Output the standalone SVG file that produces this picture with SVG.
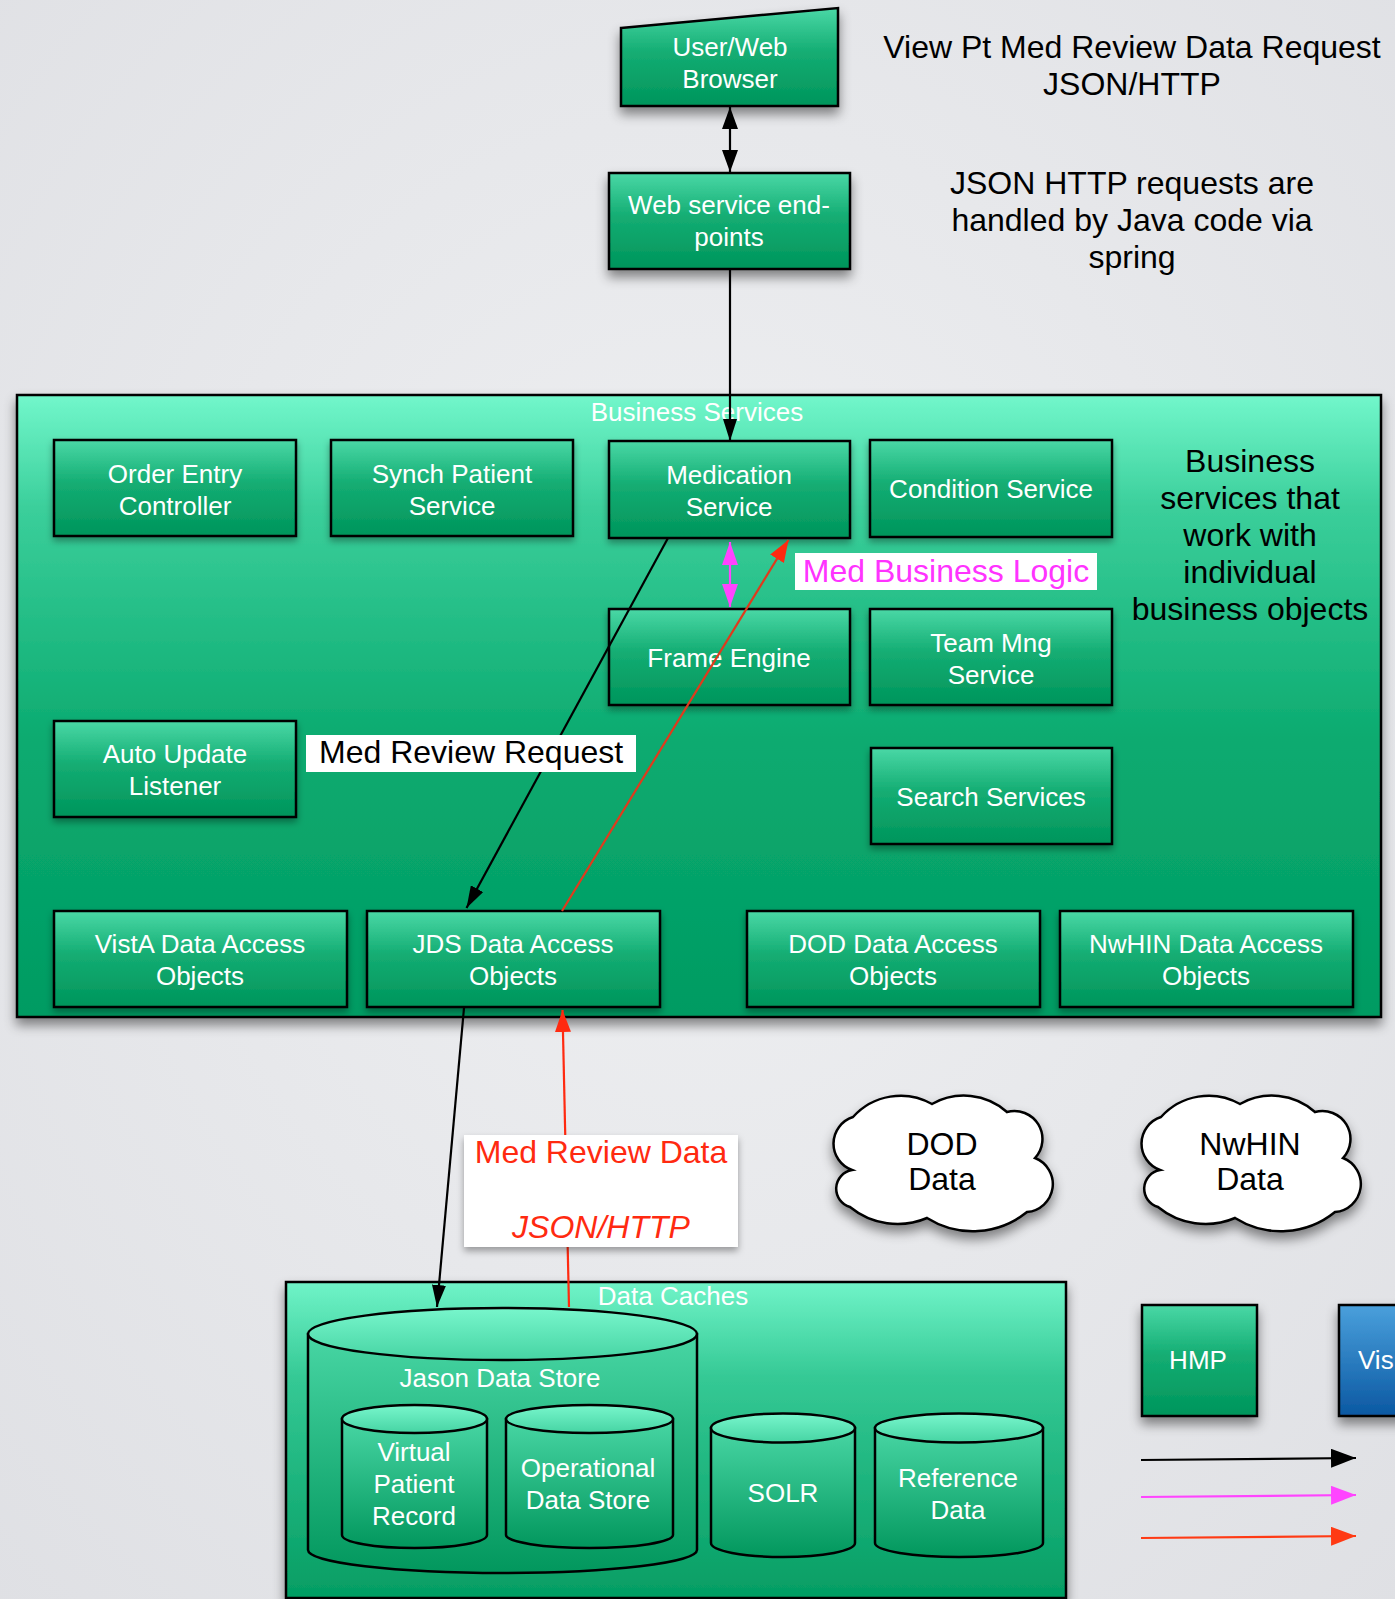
<svg xmlns="http://www.w3.org/2000/svg" width="1395" height="1599" viewBox="0 0 1395 1599">
<defs>
<radialGradient id="bg" cx="0.5" cy="0.45" r="0.75">
<stop offset="0" stop-color="#eff0f2"/><stop offset="1" stop-color="#dfe0e4"/>
</radialGradient>
<linearGradient id="gBox" x1="0" y1="0" x2="0" y2="1">
<stop offset="0" stop-color="#4ad8a6"/><stop offset="0.45" stop-color="#14ad73"/><stop offset="1" stop-color="#00955b"/>
</linearGradient>
<linearGradient id="gCont" x1="0" y1="0" x2="0" y2="1">
<stop offset="0" stop-color="#72f7cb"/><stop offset="0.18" stop-color="#3bcf9b"/><stop offset="0.55" stop-color="#0cab70"/><stop offset="1" stop-color="#009b62"/>
</linearGradient>
<linearGradient id="gCache" x1="0" y1="0" x2="0" y2="1">
<stop offset="0" stop-color="#70f4c8"/><stop offset="0.3" stop-color="#35c995"/><stop offset="1" stop-color="#049d63"/>
</linearGradient>
<linearGradient id="gCyl" x1="0" y1="0" x2="0" y2="1">
<stop offset="0" stop-color="#48d6a4"/><stop offset="1" stop-color="#02975d"/>
</linearGradient>
<linearGradient id="gTop" x1="0" y1="0" x2="0" y2="1">
<stop offset="0" stop-color="#78f6cc"/><stop offset="1" stop-color="#46d4a3"/>
</linearGradient>
<linearGradient id="gBlue" x1="0" y1="0" x2="0" y2="1">
<stop offset="0" stop-color="#4aa0dc"/><stop offset="1" stop-color="#0b58a2"/>
</linearGradient>
<filter id="sh" x="-20%" y="-20%" width="140%" height="150%">
<feDropShadow dx="0" dy="7" stdDeviation="6" flood-color="#000" flood-opacity="0.45"/>
</filter>
<filter id="shs" x="-20%" y="-20%" width="140%" height="150%">
<feDropShadow dx="0" dy="4" stdDeviation="3.5" flood-color="#000" flood-opacity="0.35"/>
</filter>
<marker id="aBlk" viewBox="0 0 22 16" refX="22" refY="8" markerWidth="22" markerHeight="16" markerUnits="userSpaceOnUse" orient="auto-start-reverse">
<path d="M0,0 L22,8 L0,16 z" fill="#000"/>
</marker>
<marker id="aBlkS" viewBox="0 0 22 14" refX="22" refY="7" markerWidth="22" markerHeight="14" markerUnits="userSpaceOnUse" orient="auto-start-reverse">
<path d="M0,0 L22,7 L0,14 z" fill="#000"/>
</marker>
<marker id="aBlkB" viewBox="0 0 25 19" refX="25" refY="9.5" markerWidth="25" markerHeight="19" markerUnits="userSpaceOnUse" orient="auto-start-reverse">
<path d="M0,0 L25,9.5 L0,19 z" fill="#000"/>
</marker>
<marker id="aPink" viewBox="0 0 23 16" refX="23" refY="8" markerWidth="23" markerHeight="16" markerUnits="userSpaceOnUse" orient="auto-start-reverse">
<path d="M0,0 L23,8 L0,16 z" fill="#ff44ff"/>
</marker>
<marker id="aPinkB" viewBox="0 0 25 19" refX="25" refY="9.5" markerWidth="25" markerHeight="19" markerUnits="userSpaceOnUse" orient="auto">
<path d="M0,0 L25,9.5 L0,19 z" fill="#ff44ff"/>
</marker>
<marker id="aRed" viewBox="0 0 22 16" refX="22" refY="8" markerWidth="22" markerHeight="16" markerUnits="userSpaceOnUse" orient="auto">
<path d="M0,0 L22,8 L0,16 z" fill="#ff2a10"/>
</marker>
<marker id="aRedB" viewBox="0 0 25 19" refX="25" refY="9.5" markerWidth="25" markerHeight="19" markerUnits="userSpaceOnUse" orient="auto">
<path d="M0,0 L25,9.5 L0,19 z" fill="#ff3a14"/>
</marker>
<path id="cloud" d="M20,70 A28,28 0 0 1 21,17 A64,64 0 0 1 100,4 A65,65 0 0 1 175,12 A28,28 0 0 1 203,58 A28,28 0 0 1 195,112 A86,86 0 0 1 95,118 A75,75 0 0 1 18,107 A19,19 0 0 1 20,70 Z"/>
</defs>
<style>
.box{fill:url(#gBox);stroke:#000;stroke-width:2.5}
.cont{stroke:#000;stroke-width:2.5}
.cyl{fill:url(#gCyl);stroke:#000;stroke-width:2.5}
.ctop{fill:url(#gTop);stroke:#000;stroke-width:2.5}
.wt{font-family:"Liberation Sans",Arial,Helvetica,sans-serif;font-size:26px;fill:#fff;text-anchor:middle}
.bt{font-family:"Liberation Sans",Arial,Helvetica,sans-serif;font-size:32px;fill:#000;text-anchor:middle}
.lbl{fill:#fff}
.ln{fill:none;stroke-width:2.2}
.cl{fill:#fff;stroke:#000;stroke-width:2.5}
</style>
<rect x="0" y="0" width="1395" height="1599" fill="url(#bg)"/>

<g id="note-top">
<text class="bt" x="1132" y="58">View Pt Med Review Data Request</text>
<text class="bt" x="1132" y="95">JSON/HTTP</text>
</g>
<g id="note-json">
<text class="bt" x="1132" y="194">JSON HTTP requests are</text>
<text class="bt" x="1132" y="231">handled by Java code via</text>
<text class="bt" x="1132" y="268">spring</text>
</g>

<g id="browser">
<path d="M621,28 L838,8 L838,106 L621,106 Z" class="box" filter="url(#sh)"/>
<text class="wt" x="730" y="56">User/Web</text>
<text class="wt" x="730" y="88">Browser</text>
</g>
<g id="webservice">
<rect x="609" y="173" width="241" height="96" class="box" filter="url(#sh)"/>
<text class="wt" x="729" y="214">Web service end-</text>
<text class="wt" x="729" y="246">points</text>
</g>

<g id="business-services">
<rect x="17" y="395" width="1364" height="622" class="cont" fill="url(#gCont)" filter="url(#sh)"/>
<text class="wt" x="697" y="421">Business Services</text>
</g>
<g id="order-entry">
<rect x="54" y="440" width="242" height="96" class="box" filter="url(#shs)"/>
<text class="wt" x="175" y="483">Order Entry</text>
<text class="wt" x="175" y="515">Controller</text>
</g>
<g id="synch-patient">
<rect x="331" y="440" width="242" height="96" class="box" filter="url(#shs)"/>
<text class="wt" x="452" y="483">Synch Patient</text>
<text class="wt" x="452" y="515">Service</text>
</g>
<g id="medication">
<rect x="609" y="441" width="241" height="97" class="box" filter="url(#shs)"/>
<text class="wt" x="729" y="484">Medication</text>
<text class="wt" x="729" y="516">Service</text>
</g>
<g id="condition">
<rect x="870" y="440" width="242" height="97" class="box" filter="url(#shs)"/>
<text class="wt" x="991" y="498">Condition Service</text>
</g>
<g id="frame-engine">
<rect x="609" y="609" width="241" height="96" class="box" filter="url(#shs)"/>
<text class="wt" x="729" y="667">Frame Engine</text>
</g>
<g id="team-mng">
<rect x="870" y="609" width="242" height="96" class="box" filter="url(#shs)"/>
<text class="wt" x="991" y="652">Team Mng</text>
<text class="wt" x="991" y="684">Service</text>
</g>
<g id="auto-update">
<rect x="54" y="721" width="242" height="96" class="box" filter="url(#shs)"/>
<text class="wt" x="175" y="763">Auto Update</text>
<text class="wt" x="175" y="795">Listener</text>
</g>
<g id="search">
<rect x="871" y="748" width="241" height="96" class="box" filter="url(#shs)"/>
<text class="wt" x="991" y="806">Search Services</text>
</g>
<g id="vista-dao">
<rect x="54" y="911" width="293" height="96" class="box" filter="url(#shs)"/>
<text class="wt" x="200" y="953">VistA Data Access</text>
<text class="wt" x="200" y="985">Objects</text>
</g>
<g id="jds-dao">
<rect x="367" y="911" width="293" height="96" class="box" filter="url(#shs)"/>
<text class="wt" x="513" y="953">JDS Data Access</text>
<text class="wt" x="513" y="985">Objects</text>
</g>
<g id="dod-dao">
<rect x="747" y="911" width="293" height="96" class="box" filter="url(#shs)"/>
<text class="wt" x="893" y="953">DOD Data Access</text>
<text class="wt" x="893" y="985">Objects</text>
</g>
<g id="nwhin-dao">
<rect x="1060" y="911" width="293" height="96" class="box" filter="url(#shs)"/>
<text class="wt" x="1206" y="953">NwHIN Data Access</text>
<text class="wt" x="1206" y="985">Objects</text>
</g>
<g id="note-business">
<text class="bt" x="1250" y="472">Business</text>
<text class="bt" x="1250" y="509">services that</text>
<text class="bt" x="1250" y="546">work with</text>
<text class="bt" x="1250" y="583">individual</text>
<text class="bt" x="1250" y="620">business objects</text>
</g>

<g id="data-caches">
<rect x="286" y="1282" width="780" height="316" class="cont" fill="url(#gCache)" filter="url(#sh)"/>
<text class="wt" x="673" y="1305">Data Caches</text>
</g>
<g id="jason-store">
<path d="M308,1334 V1550 A194,23 0 0 0 697,1550 V1334 Z" class="cyl"/>
<ellipse cx="502.5" cy="1334" rx="194.5" ry="26" class="ctop"/>
<text class="wt" x="500" y="1387">Jason Data Store</text>
</g>
<g id="vpr">
<path d="M342,1419 V1535 A72,13 0 0 0 487,1535 V1419 Z" class="cyl"/>
<ellipse cx="414.5" cy="1419" rx="72.5" ry="14" class="ctop"/>
<text class="wt" x="414" y="1461">Virtual</text>
<text class="wt" x="414" y="1493">Patient</text>
<text class="wt" x="414" y="1525">Record</text>
</g>
<g id="ods">
<path d="M506,1419 V1535 A83.5,13 0 0 0 673,1535 V1419 Z" class="cyl"/>
<ellipse cx="589.5" cy="1419" rx="83.5" ry="14" class="ctop"/>
<text class="wt" x="588" y="1477">Operational</text>
<text class="wt" x="588" y="1509">Data Store</text>
</g>
<g id="solr">
<path d="M711,1428 V1543 A72,14 0 0 0 855,1543 V1428 Z" class="cyl"/>
<ellipse cx="783" cy="1428" rx="72" ry="14.5" class="ctop"/>
<text class="wt" x="783" y="1502">SOLR</text>
</g>
<g id="reference">
<path d="M875,1428 V1543 A84,14 0 0 0 1043,1543 V1428 Z" class="cyl"/>
<ellipse cx="959" cy="1428" rx="84" ry="14.5" class="ctop"/>
<text class="wt" x="958" y="1487">Reference</text>
<text class="wt" x="958" y="1519">Data</text>
</g>

<g id="dod-cloud">
<use href="#cloud" transform="translate(832,1100)" class="cl" filter="url(#sh)"/>
<text class="bt" x="942" y="1155">DOD</text>
<text class="bt" x="942" y="1190">Data</text>
</g>
<g id="nwhin-cloud">
<use href="#cloud" transform="translate(1140,1100)" class="cl" filter="url(#sh)"/>
<text class="bt" x="1250" y="1155">NwHIN</text>
<text class="bt" x="1250" y="1190">Data</text>
</g>

<g id="hmp">
<rect x="1142" y="1305" width="115" height="111" class="box" filter="url(#sh)"/>
<text class="wt" x="1198" y="1369">HMP</text>
</g>
<g id="vista">
<rect x="1339" y="1305" width="115" height="111" fill="url(#gBlue)" stroke="#000" stroke-width="2.5" filter="url(#sh)"/>
<text class="wt" x="1358" y="1369" style="text-anchor:start">Vis</text>
</g>

<g id="connectors">
<line class="ln" x1="730" y1="107" x2="730" y2="172" stroke="#000" marker-start="url(#aBlk)" marker-end="url(#aBlk)"/>
<line class="ln" x1="730" y1="269" x2="730" y2="441" stroke="#000" marker-end="url(#aBlkS)"/>
<line class="ln" x1="730" y1="542" x2="730" y2="607" stroke="#ff44ff" stroke-width="3" marker-start="url(#aPink)" marker-end="url(#aPink)"/>
<line class="ln" x1="668" y1="538" x2="466.5" y2="908" stroke="#000" marker-end="url(#aBlkS)"/>
<line class="ln" x1="562" y1="911" x2="788.5" y2="540" stroke="#e03a1c" marker-end="url(#aRed)"/>
<line class="ln" x1="464" y1="1008" x2="437" y2="1307" stroke="#000" marker-end="url(#aBlkS)"/>
<line class="ln" x1="569" y1="1307" x2="562.5" y2="1010" stroke="#ff2a10" marker-end="url(#aRed)"/>
<line class="ln" x1="1141" y1="1460" x2="1356" y2="1458" stroke="#000" marker-end="url(#aBlkB)"/>
<line class="ln" x1="1141" y1="1497" x2="1356" y2="1495" stroke="#ff44ff" marker-end="url(#aPinkB)"/>
<line class="ln" x1="1141" y1="1538" x2="1356" y2="1536" stroke="#ff3a14" marker-end="url(#aRedB)"/>
</g>

<g id="label-med-review-request">
<rect x="306" y="735" width="330" height="37" class="lbl"/>
<text class="bt" x="319" y="763" style="text-anchor:start">Med Review Request</text>
</g>
<g id="label-med-business-logic">
<rect x="795" y="553" width="302" height="37" class="lbl"/>
<text class="bt" x="946" y="582" style="fill:#ff33ff">Med Business Logic</text>
</g>
<g id="label-med-review-data">
<rect x="464" y="1135" width="274" height="112" class="lbl" filter="url(#shs)"/>
<text class="bt" x="601" y="1163" style="fill:#ff2a10">Med Review Data</text>
<text class="bt" x="601" y="1238" style="fill:#ff2a10;font-style:italic">JSON/HTTP</text>
</g>
</svg>
